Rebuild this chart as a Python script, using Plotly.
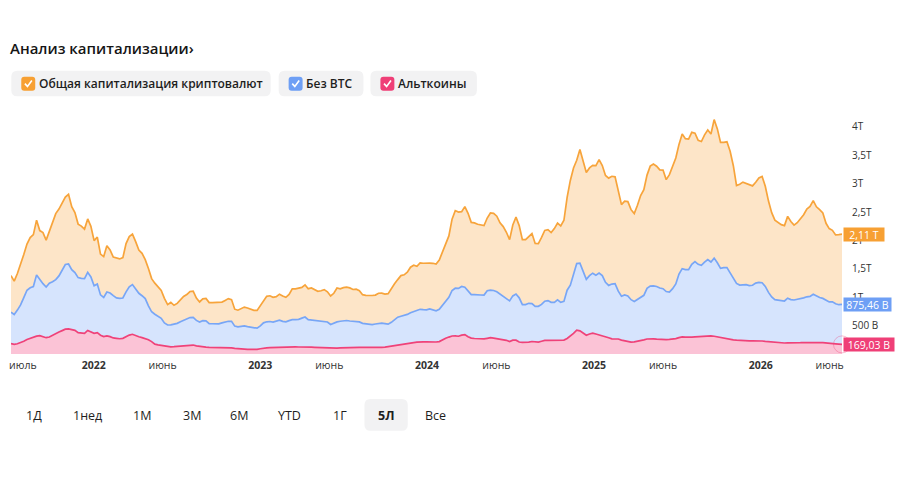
import plotly.graph_objects as go
import pandas as pd

# ---------------- data (trillions USD, weekly) ----------------
dates = pd.date_range("2021-07-04", periods=261, freq="7D")

total_cap = [
    1.380, 1.283, 1.416, 1.574, 1.750, 1.935, 2.049, 2.102, 2.357, 2.173,
    2.137, 2.005, 2.155, 2.331, 2.472, 2.551, 2.657, 2.762, 2.812, 2.595,
    2.489, 2.287, 2.252, 2.199, 2.379, 2.248, 1.997, 2.058, 1.759, 1.715,
    1.905, 1.833, 1.706, 1.688, 1.674, 1.697, 1.944, 2.067, 2.111, 1.979,
    1.829, 1.773, 1.662, 1.504, 1.327, 1.248, 1.181, 1.121, 0.981, 0.870,
    0.908, 0.857, 0.891, 0.949, 1.014, 1.046, 1.100, 1.107, 0.984, 0.916,
    0.972, 0.979, 0.905, 0.903, 0.906, 0.908, 0.914, 0.944, 0.975, 0.958,
    0.789, 0.771, 0.796, 0.826, 0.810, 0.789, 0.769, 0.768, 0.849, 0.944,
    1.016, 1.025, 0.997, 1.009, 1.053, 1.021, 0.998, 1.048, 1.146, 1.146,
    1.153, 1.173, 1.217, 1.150, 1.164, 1.127, 1.104, 1.113, 1.134, 1.095,
    1.021, 1.069, 1.162, 1.148, 1.169, 1.176, 1.164, 1.136, 1.141, 1.116,
    1.044, 1.032, 1.028, 1.030, 1.037, 1.070, 1.072, 1.056, 1.063, 1.162,
    1.236, 1.310, 1.380, 1.394, 1.440, 1.528, 1.562, 1.544, 1.604, 1.598,
    1.606, 1.601, 1.597, 1.585, 1.655, 1.801, 1.914, 2.079, 2.375, 2.525,
    2.500, 2.507, 2.595, 2.477, 2.317, 2.308, 2.284, 2.276, 2.261, 2.394,
    2.482, 2.475, 2.426, 2.310, 2.243, 2.143, 2.014, 2.271, 2.410, 2.261,
    2.014, 2.014, 2.076, 2.120, 1.947, 1.942, 2.053, 2.176, 2.188, 2.137,
    2.208, 2.306, 2.257, 2.354, 2.757, 3.056, 3.275, 3.410, 3.599, 3.416,
    3.196, 3.276, 3.322, 3.317, 3.423, 3.317, 3.144, 3.097, 3.129, 3.120,
    2.842, 2.630, 2.690, 2.683, 2.541, 2.472, 2.618, 2.789, 2.894, 3.150,
    3.308, 3.345, 3.306, 3.243, 3.238, 3.070, 3.159, 3.324, 3.451, 3.690,
    3.872, 3.791, 3.784, 3.903, 3.887, 3.761, 3.741, 3.859, 3.945, 3.873,
    4.127, 3.963, 3.725, 3.725, 3.736, 3.569, 3.315, 2.965, 2.988, 3.026,
    3.000, 2.979, 2.960, 3.023, 3.099, 3.127, 2.953, 2.692, 2.489, 2.356,
    2.313, 2.278, 2.261, 2.423, 2.333, 2.269, 2.312, 2.375, 2.451, 2.551,
    2.597, 2.701, 2.592, 2.541, 2.484, 2.301, 2.208, 2.178, 2.097, 2.102, 2.110,
]

ex_btc = [
    0.734, 0.695, 0.773, 0.864, 0.993, 1.123, 1.166, 1.187, 1.393, 1.313,
    1.239, 1.180, 1.247, 1.273, 1.310, 1.375, 1.475, 1.576, 1.585, 1.484,
    1.433, 1.345, 1.331, 1.329, 1.437, 1.357, 1.202, 1.234, 1.041, 0.997,
    1.092, 1.074, 1.028, 0.989, 0.979, 0.986, 1.093, 1.183, 1.222, 1.146,
    1.069, 1.026, 0.975, 0.849, 0.743, 0.701, 0.664, 0.629, 0.548, 0.511,
    0.512, 0.525, 0.540, 0.569, 0.595, 0.613, 0.641, 0.643, 0.592, 0.562,
    0.586, 0.583, 0.535, 0.533, 0.536, 0.532, 0.549, 0.563, 0.576, 0.576,
    0.491, 0.479, 0.491, 0.495, 0.481, 0.470, 0.452, 0.454, 0.495, 0.549,
    0.567, 0.572, 0.563, 0.581, 0.597, 0.574, 0.565, 0.588, 0.606, 0.604,
    0.609, 0.632, 0.651, 0.606, 0.599, 0.593, 0.586, 0.577, 0.576, 0.563,
    0.519, 0.548, 0.565, 0.577, 0.588, 0.590, 0.581, 0.576, 0.576, 0.565,
    0.540, 0.530, 0.523, 0.519, 0.528, 0.537, 0.544, 0.535, 0.525, 0.558,
    0.599, 0.648, 0.664, 0.674, 0.697, 0.725, 0.750, 0.771, 0.787, 0.780,
    0.776, 0.794, 0.778, 0.761, 0.787, 0.852, 0.916, 0.998, 1.118, 1.158,
    1.155, 1.188, 1.176, 1.118, 1.046, 1.044, 1.048, 1.039, 1.037, 1.113,
    1.125, 1.118, 1.095, 1.056, 1.016, 0.965, 0.935, 1.023, 1.056, 0.989,
    0.870, 0.870, 0.893, 0.887, 0.838, 0.840, 0.873, 0.930, 0.940, 0.910,
    0.910, 0.954, 0.910, 0.926, 1.123, 1.211, 1.391, 1.592, 1.600, 1.458,
    1.313, 1.380, 1.423, 1.387, 1.424, 1.380, 1.262, 1.208, 1.231, 1.239,
    1.107, 1.016, 1.039, 1.023, 0.956, 0.926, 0.965, 0.988, 1.033, 1.157,
    1.195, 1.199, 1.188, 1.162, 1.150, 1.100, 1.092, 1.150, 1.234, 1.407,
    1.502, 1.486, 1.484, 1.579, 1.627, 1.579, 1.560, 1.616, 1.664, 1.620,
    1.688, 1.606, 1.507, 1.519, 1.521, 1.428, 1.331, 1.243, 1.213, 1.222,
    1.222, 1.204, 1.210, 1.248, 1.261, 1.254, 1.190, 1.085, 1.004, 0.956,
    0.947, 0.937, 0.933, 0.982, 0.958, 0.951, 0.960, 0.968, 0.988, 1.007,
    1.014, 1.053, 1.019, 0.995, 0.979, 0.944, 0.917, 0.919, 0.884, 0.868, 0.875,
]

altcoins = [
    0.183, 0.169, 0.180, 0.199, 0.225, 0.254, 0.278, 0.303, 0.315, 0.324,
    0.299, 0.287, 0.299, 0.331, 0.364, 0.387, 0.412, 0.438, 0.442, 0.433,
    0.417, 0.375, 0.364, 0.363, 0.415, 0.389, 0.364, 0.375, 0.331, 0.308,
    0.320, 0.306, 0.283, 0.276, 0.269, 0.276, 0.306, 0.333, 0.347, 0.320,
    0.303, 0.289, 0.271, 0.250, 0.218, 0.173, 0.162, 0.155, 0.141, 0.129,
    0.127, 0.130, 0.134, 0.144, 0.150, 0.157, 0.162, 0.158, 0.144, 0.134,
    0.127, 0.121, 0.118, 0.118, 0.117, 0.118, 0.113, 0.111, 0.109, 0.107,
    0.099, 0.092, 0.088, 0.086, 0.083, 0.081, 0.077, 0.083, 0.093, 0.104,
    0.109, 0.111, 0.114, 0.116, 0.118, 0.120, 0.121, 0.123, 0.125, 0.125,
    0.123, 0.125, 0.125, 0.121, 0.120, 0.118, 0.116, 0.114, 0.109, 0.102,
    0.097, 0.100, 0.104, 0.107, 0.111, 0.113, 0.114, 0.114, 0.116, 0.118,
    0.118, 0.116, 0.116, 0.118, 0.118, 0.120, 0.118, 0.120, 0.130, 0.143,
    0.155, 0.165, 0.173, 0.180, 0.187, 0.194, 0.201, 0.208, 0.215, 0.215,
    0.213, 0.211, 0.210, 0.211, 0.218, 0.250, 0.276, 0.298, 0.317, 0.320,
    0.313, 0.333, 0.342, 0.303, 0.280, 0.273, 0.268, 0.266, 0.266, 0.276,
    0.287, 0.278, 0.269, 0.261, 0.252, 0.241, 0.220, 0.243, 0.243, 0.211,
    0.206, 0.206, 0.210, 0.220, 0.213, 0.210, 0.225, 0.241, 0.241, 0.241,
    0.241, 0.239, 0.234, 0.245, 0.273, 0.313, 0.364, 0.421, 0.407, 0.370,
    0.331, 0.352, 0.368, 0.352, 0.338, 0.322, 0.308, 0.285, 0.266, 0.266,
    0.264, 0.245, 0.231, 0.218, 0.208, 0.213, 0.222, 0.236, 0.250, 0.264,
    0.271, 0.268, 0.262, 0.257, 0.254, 0.254, 0.257, 0.262, 0.271, 0.289,
    0.301, 0.298, 0.294, 0.298, 0.301, 0.306, 0.312, 0.317, 0.324, 0.319,
    0.313, 0.301, 0.287, 0.278, 0.268, 0.257, 0.250, 0.245, 0.239, 0.236,
    0.232, 0.232, 0.231, 0.234, 0.234, 0.229, 0.222, 0.217, 0.210, 0.202,
    0.195, 0.195, 0.194, 0.197, 0.195, 0.195, 0.197, 0.199, 0.201, 0.202,
    0.206, 0.213, 0.208, 0.202, 0.199, 0.197, 0.192, 0.185, 0.180, 0.175, 0.169,
]

series_names = ["Общая капитализация криптовалют", "Без BTC", "Альткоины"]
last_labels = ["2,11 T", "875,46 B", "169,03 B"]

y_tickvals = [0.5, 1, 1.5, 2, 2.5, 3, 3.5, 4]
y_ticktext = ["500 B", "1T", "1,5T", "2T", "2,5T", "3T", "3,5T", "4T"]

x_tickvals = ["2021-07-30", "2022-01-01", "2022-06-01", "2023-01-01", "2023-06-01",
              "2024-01-01", "2024-06-01", "2025-01-01", "2025-06-01", "2026-01-01",
              "2026-06-01"]
x_ticktext = ["июль", "<b>2022</b>", "июнь", "<b>2023</b>", "июнь", "<b>2024</b>",
              "июнь", "<b>2025</b>", "июнь", "<b>2026</b>", "июнь"]

range_buttons = ["1Д", "1нед", "1M", "3M", "6M", "YTD", "1Г", "5Л", "Все"]
selected_button = "5Л"

# ---------------- style ----------------
FONT = "Open Sans"
line_colors = ["#F7A43B", "#78A6F6", "#EF4279"]
fill_colors = ["#FDE5C8", "#D6E4FD", "#FBC3D6"]
label_colors = ["#F7A033", "#6E9FF5", "#EF3F77"]

W, H = 900, 481
L, R, T, B = 9, 58, 105, 127
PW, PH = W - L - R, H - T - B
Y_MAX = 4.384


def fx(px):
    return (px - L) / PW


def fy(py):
    return (H - B - py) / PH


def rrect(x0, y0, x1, y1, r):
    pts = [
        ("M", (x0 + r, y0)), ("L", (x1 - r, y0)), ("Q", (x1, y0), (x1, y0 + r)),
        ("L", (x1, y1 - r)), ("Q", (x1, y1), (x1 - r, y1)), ("L", (x0 + r, y1)),
        ("Q", (x0, y1), (x0, y1 - r)), ("L", (x0, y0 + r)), ("Q", (x0, y0), (x0 + r, y0)),
    ]
    s = ""
    for p in pts:
        s += p[0] + " " + " ".join(f"{fx(a):.5f},{fy(b):.5f}" for a, b in p[1:]) + " "
    return s + "Z"


fig = go.Figure()
for vals, name, lc, fc in zip([total_cap, ex_btc, altcoins], series_names, line_colors, fill_colors):
    fig.add_trace(go.Scatter(
        x=dates, y=vals, name=name, mode="lines",
        line=dict(color=lc, width=1.7), fill="tozeroy", fillcolor=fc,
        hoverinfo="skip",
    ))

# ring at last altcoin point
fig.add_trace(go.Scatter(
    x=[dates[-1]], y=[altcoins[-1]], mode="markers", cliponaxis=False,
    marker=dict(size=17, color="rgba(255,255,255,0)",
                line=dict(color="rgba(239,66,121,0.35)", width=1)),
    hoverinfo="skip",
))

shapes = []
annotations = []

# title
annotations.append(dict(
    x=fx(6), y=fy(48), xref="paper", yref="paper", xanchor="left", yanchor="middle",
    text="Анализ капитализации›", showarrow=False,
    font=dict(family=FONT, size=15, color="#151515", weight=600),
))

# legend chips
chips = [(9.3, 269.3), (277.3, 362.3), (369.3, 476.0)]
for (c0, c1), name, col in zip(chips, series_names, label_colors):
    shapes.append(dict(type="path", path=rrect(c0, 70.7, c1, 96.2, 6), xref="paper", yref="paper",
                       fillcolor="#F2F2F3", line=dict(width=0), layer="below"))
    b0 = c0 + 10
    shapes.append(dict(type="path", path=rrect(b0, 76.7, b0 + 14, 90.7, 3), xref="paper", yref="paper",
                       fillcolor=col, line=dict(width=0)))
    chk = f"M {fx(b0 + 3.6):.5f},{fy(83.6):.5f} L {fx(b0 + 6.2):.5f},{fy(86.4):.5f} L {fx(b0 + 10.6):.5f},{fy(80.6):.5f}"
    shapes.append(dict(type="path", path=chk, xref="paper", yref="paper",
                       line=dict(color="white", width=1.6)))
    annotations.append(dict(
        x=fx(b0 + 15.5), y=fy(83.5), xref="paper", yref="paper", xanchor="left", yanchor="middle",
        text=name, showarrow=False,
        font=dict(family=FONT, size=12, color="#1E1E1E", weight=600),
    ))

# last-value labels on the right axis
for vals, lab, col, wd in zip([total_cap, ex_btc, altcoins], last_labels, label_colors, [38, 45, 48]):
    annotations.append(dict(
        x=1.0, y=vals[-1], xref="paper", yref="y", xanchor="left", yanchor="middle",
        xshift=1, text=lab, showarrow=False, bgcolor=col, borderpad=1,
        width=wd, height=11, align="center",
        font=dict(family=FONT, size=10.5, color="white"),
    ))

# range buttons
btn_x = [31.7, 86, 140, 190, 237.7, 288.3, 338.3, 385, 435]
for lab, bx in zip(range_buttons, btn_x):
    sel = lab == selected_button
    if sel:
        shapes.append(dict(type="path", path=rrect(bx - 21.7, 399, bx + 21.7, 430.7, 6),
                           xref="paper", yref="paper", fillcolor="#F2F2F3",
                           line=dict(width=0), layer="below"))
    annotations.append(dict(
        x=fx(bx), y=fy(415), xref="paper", yref="paper", xanchor="center", yanchor="middle",
        text=lab, showarrow=False,
        font=dict(family=FONT, size=12.5, color="#1E1E1E", weight=700 if sel else 500),
    ))

fig.update_layout(
    width=W, height=H, margin=dict(l=L, r=R, t=T, b=B),
    paper_bgcolor="white", plot_bgcolor="white",
    showlegend=False, shapes=shapes, annotations=annotations,
    font=dict(family=FONT),
    hovermode=False,
)
fig.update_xaxes(
    type="date", range=[dates[0], dates[-1]], showgrid=False, zeroline=False,
    showline=False, tickvals=x_tickvals, ticktext=x_ticktext,
    ticks="outside", ticklen=1, tickcolor="rgba(0,0,0,0)",
    tickfont=dict(family=FONT, size=10.5, color="#333333"),
)
fig.update_yaxes(
    side="right", range=[0, Y_MAX], showgrid=False, zeroline=False, showline=False,
    tickvals=y_tickvals, ticktext=y_ticktext,
    ticks="outside", ticklen=7, tickcolor="rgba(0,0,0,0)",
    tickfont=dict(family=FONT, size=10, color="#333333"),
)

fig.write_html("out.html", config={"displayModeBar": False})
